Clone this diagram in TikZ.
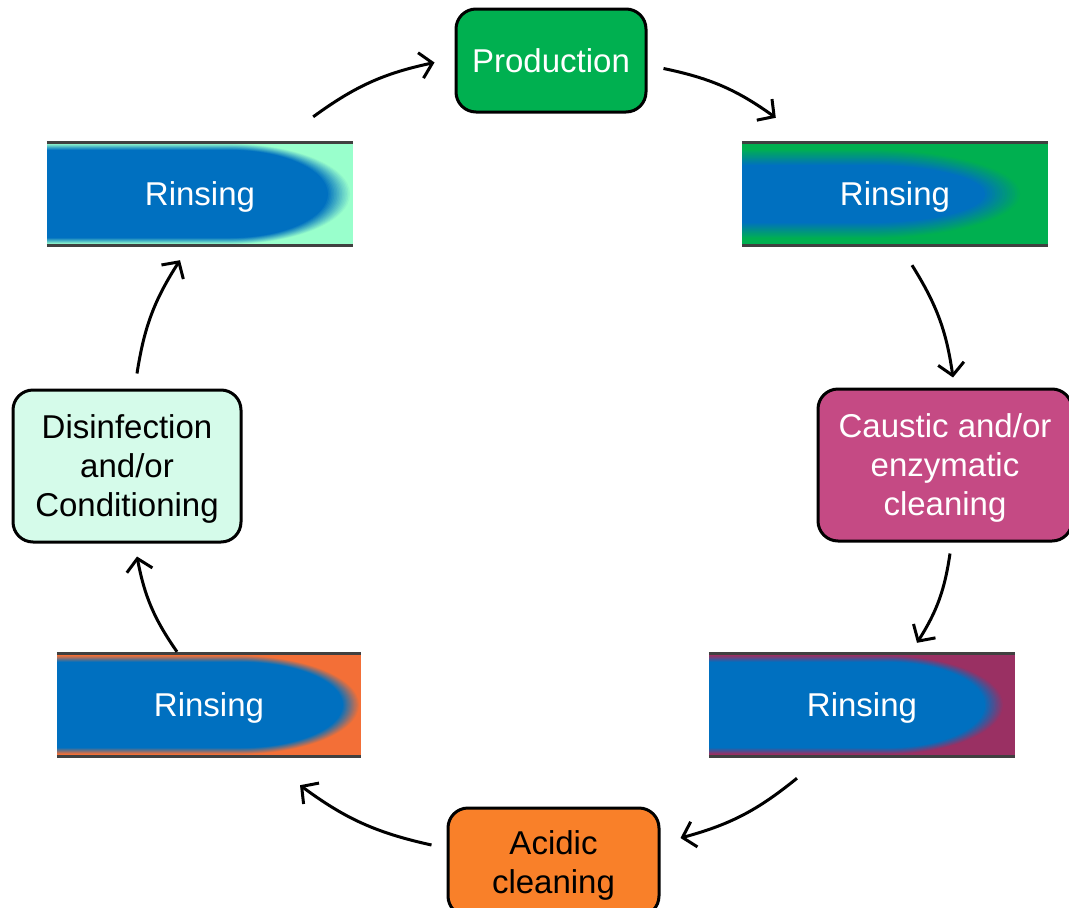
\documentclass[tikz,border=0pt]{standalone}
\usepackage{fontspec}
\setmainfont{Liberation Sans}
\usetikzlibrary{arrows.meta}

\definecolor{rinseblue}{HTML}{0070C0}
\definecolor{prodgreen}{HTML}{00B050}
\definecolor{causticpink}{HTML}{C54A84}
\definecolor{acidorange}{HTML}{F98029}
\definecolor{disinfmint}{HTML}{D5FBEA}
\definecolor{pipemint}{HTML}{99FFCC}
\definecolor{pipepurple}{HTML}{9A3063}
\definecolor{pipeorange}{HTML}{F36F37}
\definecolor{pipegray}{HTML}{404040}

\newcommand\stepfont{\fontsize{33}{39}\selectfont}

% blue rinse water pushing out the previous liquid
% #1 colour, #2 left x, #3 top y, #4 bottom y, #5 inset, #6 flat end x, #7 tip x, #8 fade y, #9 fade x
\newcommand\rinseblob[9]{%
  \foreach \k in {0,...,14}{%
    \pgfmathsetmacro\o{1-\k/14}%
    \pgfmathtruncatemacro\mix{100*(\k+1)/15}%
    \pgfmathsetmacro\yt{min(#3-#5+\o*#8,#3)}%
    \pgfmathsetmacro\yb{max(#4+#5-\o*#8,#4)}%
    \pgfmathsetmacro\xt{#7+\o*#9}%
    \pgfmathsetmacro\ym{(#3+#4)/2}%
    \pgfmathsetmacro\cx{#6+0.55*(\xt-#6)}%
    \pgfmathsetmacro\cyt{\ym+0.55*(\yt-\ym)}%
    \pgfmathsetmacro\cyb{\ym+0.55*(\yb-\ym)}%
    \fill[rinseblue!\mix!#1] (#2,\yt) -- (#6,\yt)
      .. controls (\cx,\yt) and (\xt,\cyt) .. (\xt,\ym)
      .. controls (\xt,\cyb) and (\cx,\yb) .. (#6,\yb)
      -- (#2,\yb) -- cycle;
  }%
}

\begin{document}
\begin{tikzpicture}[
    x=1pt, y=1pt,
    stepbox/.style={rectangle, draw=black, line width=3pt, rounded corners=20pt, align=center, inner sep=0pt, text depth=0pt, font=\stepfont},
    pipe/.style={rectangle, inner sep=0pt, minimum height=102pt, text depth=0pt, text=white, font=\stepfont},
    pipeline/.style={draw=pipegray, line width=3pt},
    flow/.style={line width=3pt, -{Straight Barb[length=12pt, width=26pt]}, bend left=12}
]
\useasboundingbox (0,0) rectangle (1069,-908);

% cleaning steps
\node[stepbox, fill=prodgreen, text=white, minimum width=190pt, minimum height=103pt] (prod) at (551,-60.5) {Production};
\node[stepbox, fill=causticpink, text=white, minimum width=254pt, minimum height=152pt] (caustic) at (945,-465) {Caustic and/or\\enzymatic\\cleaning};
\node[stepbox, fill=acidorange, minimum width=211pt, minimum height=108pt] (acid) at (553.5,-862) {Acidic\\cleaning};
\node[stepbox, fill=disinfmint, minimum width=228pt, minimum height=152pt] (disinf) at (127,-466) {Disinfection\\and/or\\Conditioning};

% rinsing pipes
\fill[prodgreen] (742,-143) rectangle (1048,-245);
\rinseblob{prodgreen}{742}{-143}{-245}{22}{868}{985}{15}{35}
\fill[pipepurple] (709,-654) rectangle (1015,-756);
\rinseblob{pipepurple}{709}{-654}{-756}{8}{887}{985}{6}{18}
\fill[pipeorange] (57,-654) rectangle (361,-756);
\rinseblob{pipeorange}{57}{-654}{-756}{8}{240}{343}{6}{16}
\fill[pipemint] (47,-143) rectangle (353,-245);
\rinseblob{pipemint}{47}{-143}{-245}{7}{230}{328}{6}{22}

\node[pipe, minimum width=306pt] (rinse1) at (895,-194) {Rinsing};
\node[pipe, minimum width=306pt] (rinse2) at (862,-705) {Rinsing};
\node[pipe, minimum width=304pt] (rinse3) at (209,-705) {Rinsing};
\node[pipe, minimum width=306pt] (rinse4) at (200,-194) {Rinsing};

\foreach \p in {rinse1, rinse2, rinse3, rinse4} {
  \draw[pipeline] (\p.north west) -- (\p.north east);
  \draw[pipeline] (\p.south west) -- (\p.south east);
}

% cycle
\draw[flow] ([shift={(16,-8)}]prod.east) to ([shift={(34,25)}]rinse1.north west);
\draw[flow] ([shift={(17,-20)}]rinse1.south) to ([shift={(8,10)}]caustic.north);
\draw[flow] ([shift={(5,-11)}]caustic.south) to ([shift={(55,11)}]rinse2.north);
\draw[flow] ([shift={(-65,-22)}]rinse2.south) to ([shift={(20,24)}]acid.east);
\draw[flow] ([shift={(-15,17)}]acid.west) to ([shift={(91,-29)}]rinse3.south);
\draw[flow] ([shift={(-32,2)}]rinse3.north) to ([shift={(10,-13)}]disinf.south);
\draw[flow] ([shift={(10,15)}]disinf.north) to ([shift={(-20,-15)}]rinse4.south);
\draw[flow] ([shift={(-40,26)}]rinse4.north east) to ([shift={(-20,-2)}]prod.west);

\end{tikzpicture}
\end{document}
